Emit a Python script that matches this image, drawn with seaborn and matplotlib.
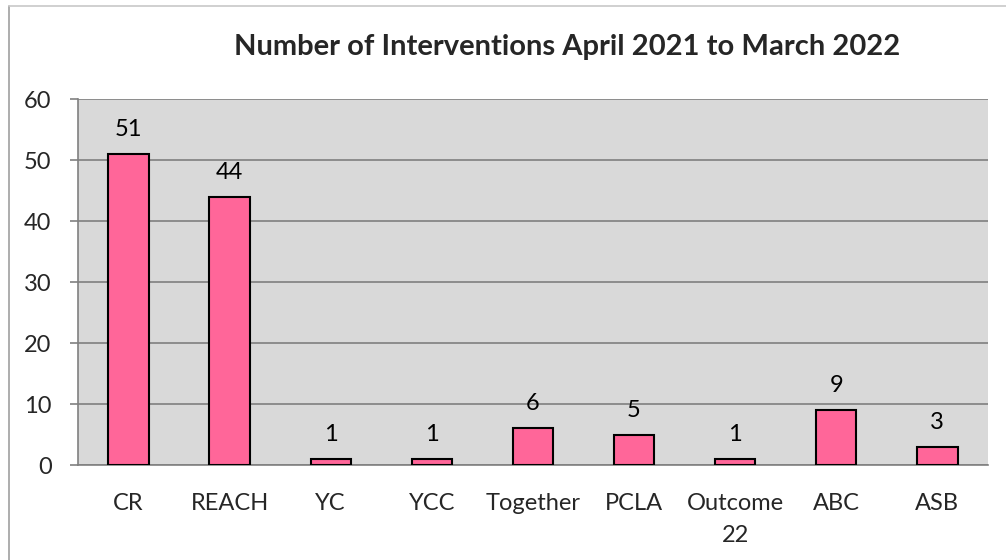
import matplotlib
matplotlib.use('Agg')
import matplotlib.pyplot as plt
import seaborn as sns
import pandas as pd
from matplotlib.lines import Line2D

# dane z wykresu
categories = ['CR', 'REACH', 'YC', 'YCC', 'Together', 'PCLA', 'Outcome\n22', 'ABC', 'ASB']
interventions = [51, 44, 1, 1, 6, 5, 1, 9, 3]
y_ticks = [0, 10, 20, 30, 40, 50, 60]

df = pd.DataFrame({'Category': categories, 'Count': interventions})

sns.set_style('white')
plt.rcParams['font.family'] = ['Lato', 'DejaVu Sans']

fig = plt.figure(figsize=(10.06, 5.6), dpi=100)
ax = fig.add_axes([0.0775, 0.1696, 0.9045, 0.6534])
ax.set_facecolor('#D9D9D9')

sns.barplot(data=df, x='Category', y='Count', color='#FF6699', width=0.4,
            edgecolor='black', linewidth=1.5, saturation=1, ax=ax, zorder=3)

for i, v in enumerate(interventions):
    ax.text(i, v + 2.3, str(v), ha='center', va='bottom', fontsize=17, color='black')

ax.set_ylim(0, 60)
ax.set_xlim(-0.5, len(categories) - 0.5)
ax.set_yticks(y_ticks)
ax.grid(axis='y', color='#808080', linewidth=1.2, zorder=0)
ax.set_axisbelow(True)

# kreski na osi x miedzy kategoriami
ax.set_xticks([i - 0.5 for i in range(len(categories) + 1)], minor=True)
ax.tick_params(axis='x', which='minor', length=6, color='#808080', width=1.2, direction='out')
ax.tick_params(axis='x', which='major', length=0, labelsize=17, pad=20)
for lbl in ax.get_xticklabels():
    lbl.set_linespacing(1.65)
ax.tick_params(axis='y', length=6, color='#808080', width=1.2, labelsize=17, pad=13, left=True)

for side in ['top', 'right']:
    ax.spines[side].set_visible(False)
ax.spines['left'].set_color('#808080')
ax.spines['bottom'].set_color('#808080')
ax.spines['left'].set_linewidth(1.2)
ax.spines['bottom'].set_linewidth(1.2)

ax.set_xlabel('')
ax.set_ylabel('')

fig.text(0.564, 0.916, 'Number of Interventions April 2021 to March 2022',
         ha='center', va='center', fontsize=21, fontweight='bold')

# ramka wykresu
fig.add_artist(Line2D([9 / 1006, 9 / 1006], [0, 1 - 6 / 560], color='#A0A0A0', linewidth=1.2))
fig.add_artist(Line2D([9 / 1006, 1], [1 - 6 / 560, 1 - 6 / 560], color='#C8C8C8', linewidth=1.2))

plt.savefig('out.png', dpi=100)
